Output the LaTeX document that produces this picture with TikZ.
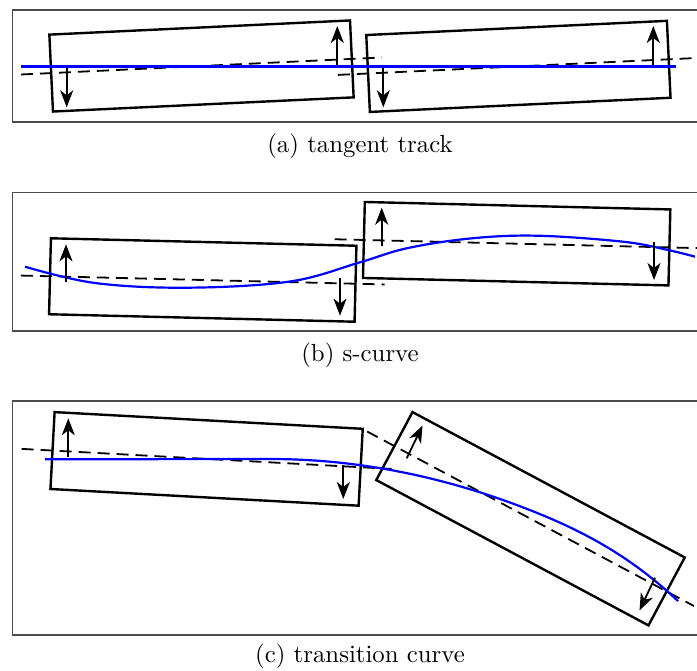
\documentclass[tikz,border=0pt]{standalone}
\usetikzlibrary{arrows.meta}
\begin{document}
\begin{tikzpicture}[x=1pt,y=-1pt,
  frame/.style={draw=black!70, line width=1.5pt},
  car/.style={draw=black, line width=2.4pt},
  axisline/.style={draw=black, line width=1.8pt, dash pattern=on 12pt off 7pt},
  track/.style={draw=blue, line width=2.2pt},
  force/.style={draw=black, line width=1.8pt, -{Stealth[length=17pt,width=13pt,inset=5pt]}},
  captxt/.style={anchor=base, inner sep=0pt}
]
\useasboundingbox (0,0) rectangle (697,671);

% ---------- panel (a) ----------
\draw[frame] (12.3,10) rectangle (712,122);
\begin{scope}[shift={(201.5,66)}, rotate=2.7]
  \draw[car] (-150.5,-38.5) rectangle (150.5,38.5);
  \draw[axisline] (-180.7,0) -- (180.7,0);
\end{scope}
\begin{scope}[shift={(518.4,66.4)}, rotate=2.7]
  \draw[car] (-150.5,-38.5) rectangle (150.5,38.5);
  \draw[axisline] (-180.7,0) -- (185,0);
\end{scope}
\draw[track] (21,66.5) -- (676,66.5);
\draw[force] (66.7,68.3) -- (66.7,107.3);
\draw[force] (337.3,65) -- (337.3,26);
\draw[force] (383.3,68.3) -- (383.3,107.3);
\draw[force] (653.3,65) -- (653.3,26);
\node[captxt] (capa) at (360,152.5) {\scalebox{2.48}{(a) tangent track}};

% ---------- panel (b) ----------
\draw[frame] (12.3,192.3) rectangle (712,331);
\begin{scope}[shift={(202.75,280)}, rotate=-1.4]
  \draw[car] (-152.8,-38) rectangle (152.8,38);
  \draw[axisline] (-182,0) -- (182,0);
\end{scope}
\begin{scope}[shift={(516.65,243.7)}, rotate=-1.4]
  \draw[car] (-152.8,-38) rectangle (152.8,38);
  \draw[axisline] (-182,0) -- (185,0);
\end{scope}
\draw[track] plot[smooth, tension=0.6] coordinates {(25,266.7) (95,283) (187,287.7) (290,281.5) (360,262.3) (406.7,248.3) (470,238.5) (536.7,235.7) (623,241.7) (668,250) (695,256.7)};
\draw[force] (66,281.7) -- (66,244.3);
\draw[force] (340,278) -- (340,315.7);
\draw[force] (381.7,246) -- (381.7,207.7);
\draw[force] (654,241.7) -- (654,280);
\node[captxt] (capb) at (360,362) {\scalebox{2.48}{(b) s-curve}};

% ---------- panel (c) ----------
\draw[frame] (12.3,401) rectangle (712,635);
\begin{scope}[shift={(206.6,458.9)}, rotate=-3.1]
  \draw[car] (-154.3,-38.5) rectangle (154.3,38.5);
  \draw[axisline] (-185.2,0) -- (185.2,0);
\end{scope}
\begin{scope}[shift={(530.5,518.75)}, rotate=-28.1]
  \draw[car] (-154.3,-38.5) rectangle (154.3,38.5);
  \draw[axisline] (-185.2,0) -- (185.2,0);
\end{scope}
\draw[track, line join=round] (45,459.3) -- (270,459)
  -- plot[domain=270:678, samples=80] (\x, {459 + 7.56*((\x-270)/100)^2 + 5*(max(0,(\x-530)/100))^3});
\draw[force] (68.3,456.7) -- (68.3,418.3);
\draw[force] (343.3,465) -- (343.3,499);
\draw[force] (406.7,458.3) -- (422.5,425.5);
\draw[force] (655,577.7) -- (639.5,610.5);
\node[captxt] (capc) at (360,662) {\scalebox{2.48}{(c) transition curve}};
\end{tikzpicture}
\end{document}
